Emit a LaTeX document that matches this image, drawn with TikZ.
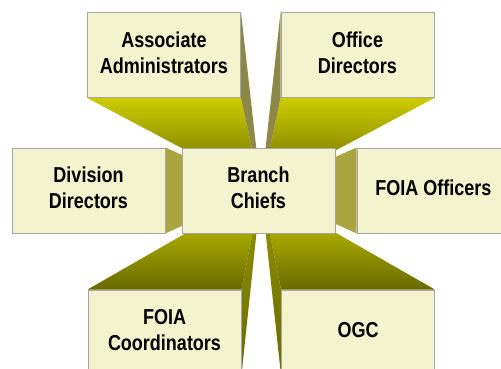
\documentclass[tikz,border=0pt]{standalone}
\usepackage{fontspec}
\setmainfont{Liberation Sans}
\usepackage{graphicx}
\usetikzlibrary{backgrounds}
\definecolor{boxfill}{RGB}{243,243,205}
\definecolor{boxline}{RGB}{165,165,165}
\newcommand{\boxtext}[1]{\scalebox{1}[1.2]{\begin{tabular}{@{}c@{}}#1\end{tabular}}}

\begin{document}
\begin{tikzpicture}[x=1pt,y=-1pt,
box/.style={draw=boxline,fill=boxfill,line width=0.9pt,
minimum width=153pt,minimum height=85pt,inner sep=0pt,
font=\fontsize{18}{21.5}\selectfont\bfseries},
lowface/.style={top color=yellow!80!black,bottom color=yellow!38!black},
upface/.style={top color=yellow!85!black,bottom color=yellow!41!black},
topside/.style={fill=yellow!49!black},
midside/.style={fill=yellow!62!black},
lowside/.style={top color=yellow!58!black,bottom color=yellow!42!black}]
\useasboundingbox (0,0) rectangle (501,369);
\clip (0,0) rectangle (501,369);
\node[box] (assoc) at (164,55) {\boxtext{Associate\\Administrators}};
\node[box] (office) at (357.5,55) {\boxtext{Office\\Directors}};
\node[box] (div) at (88.5,190.5) {\boxtext{Division\\Directors}};
\node[box] (chiefs) at (258.5,190.5) {\boxtext{Branch\\Chiefs}};
\node[box] (foia) at (433.5,190.5) {\boxtext{FOIA Officers}};
\node[box] (coord) at (164.5,332.5) {\boxtext{FOIA\\Coordinators}};
\node[box] (ogc) at (358,332.5) {\boxtext{OGC}};
\coordinate (vp) at (261,190);
\begin{scope}[on background layer]
\shade[lowface] (assoc.south west) -- (assoc.south east) -- (vp) -- cycle;
\fill[topside] (assoc.north east) -- (assoc.south east) -- (vp) -- cycle;
\shade[lowface] (office.south west) -- (office.south east) -- (vp) -- cycle;
\fill[topside] (office.north west) -- (office.south west) -- (vp) -- cycle;
\fill[midside] (div.north east) -- (div.south east) -- (vp) -- cycle;
\fill[midside] (foia.north west) -- (foia.south west) -- (vp) -- cycle;
\shade[upface] (coord.north west) -- (coord.north east) -- (vp) -- cycle;
\shade[lowside] (coord.north east) -- (coord.south east) -- (vp) -- cycle;
\shade[upface] (ogc.north west) -- (ogc.north east) -- (vp) -- cycle;
\shade[lowside] (ogc.north west) -- (ogc.south west) -- (vp) -- cycle;
\end{scope}
\end{tikzpicture}
\end{document}
